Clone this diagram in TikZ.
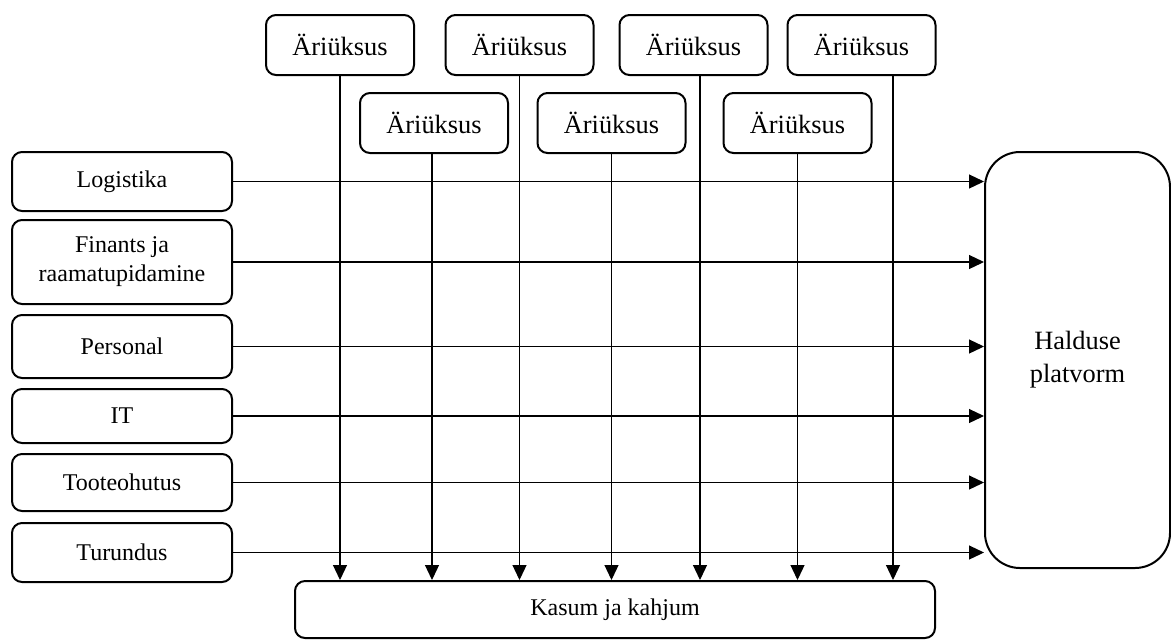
\documentclass[tikz,border=0pt]{standalone}
\usepackage{fontspec}
\setmainfont{Liberation Serif}
\usepackage{tikz}
\usetikzlibrary{arrows.meta}
\usepackage{xcolor}

\begin{document}
\begin{tikzpicture} [x=0.5pt, y=-0.5pt,
	box/.style={draw=black, line width=1pt, rounded corners=5pt, align=center, inner sep=0pt},
	unit/.style={box, minimum width=74pt, minimum height=30pt, font=\fontsize{13.2}{15}\selectfont},
	dept/.style={box, minimum width=110pt, font=\fontsize{12}{14.5}\selectfont},
	arr/.style={line width=0.6pt, -{Triangle[length=7.5pt, width=7pt]}}]
	\useasboundingbox (0, 0) rectangle (1171, 639);
	\node [unit] (u1) at (340, 45) {Äriüksus};
	\node [unit] (u2) at (434, 123) {Äriüksus};
	\node [unit] (u3) at (519.5, 45) {Äriüksus};
	\node [unit] (u4) at (611.5, 123) {Äriüksus};
	\node [unit] (u5) at (693.5, 45) {Äriüksus};
	\node [unit] (u6) at (797.5, 123) {Äriüksus};
	\node [unit] (u7) at (861.5, 45) {Äriüksus};
	\node [dept, minimum height=29.5pt] (d1) at (122, 181.5) {Logistika};
	\node [dept, minimum height=42pt] (d2) at (122, 262) {Finants ja\\raamatupidamine};
	\node [dept, minimum height=31.5pt] (d3) at (122, 346.5) {Personal};
	\node [dept, minimum height=27pt] (d4) at (122, 416) {IT};
	\node [dept, minimum height=28.5pt] (d5) at (122, 482.5) {Tooteohutus};
	\node [dept, minimum height=29.5pt] (d6) at (122, 552.5) {Turundus};
	\node [box, rounded corners=17.5pt, minimum width=92.5pt, minimum height=208pt, font=\fontsize{13.2}{16.5}\selectfont] (hub) at (1077.5, 360) {Halduse\\platvorm};
	\node [box, minimum width=320pt, minimum height=28.5pt, font=\fontsize{12}{14.5}\selectfont] (total) at (615, 609.5) {Kasum ja kahjum};
	% departments to the platform
	\draw [arr] (d1.east)--(d1.east -| hub.west);
	\draw [arr] (d2.east)--(d2.east -| hub.west);
	\draw [arr] (d3.east)--(d3.east -| hub.west);
	\draw [arr] (d4.east)--(d4.east -| hub.west);
	\draw [arr] (d5.east)--(d5.east -| hub.west);
	\draw [arr] (d6.east)--(d6.east -| hub.west);
	% units down to the result
	\draw [arr] (u1.south)--(u1.south |- total.north);
	\draw [arr] ([xshift=-1pt]u2.south)--([xshift=-1pt]u2.south |- total.north);
	\draw [arr] (u3.south)--(u3.south |- total.north);
	\draw [arr] (u4.south)--(u4.south |- total.north);
	\draw [arr] ([xshift=3.25pt]u5.south)--([xshift=3.25pt]u5.south |- total.north);
	\draw [arr] (u6.south)--(u6.south |- total.north);
	\draw [arr] ([xshift=15.75pt]u7.south)--([xshift=15.75pt]u7.south |- total.north);
\end{tikzpicture}
\end{document}
